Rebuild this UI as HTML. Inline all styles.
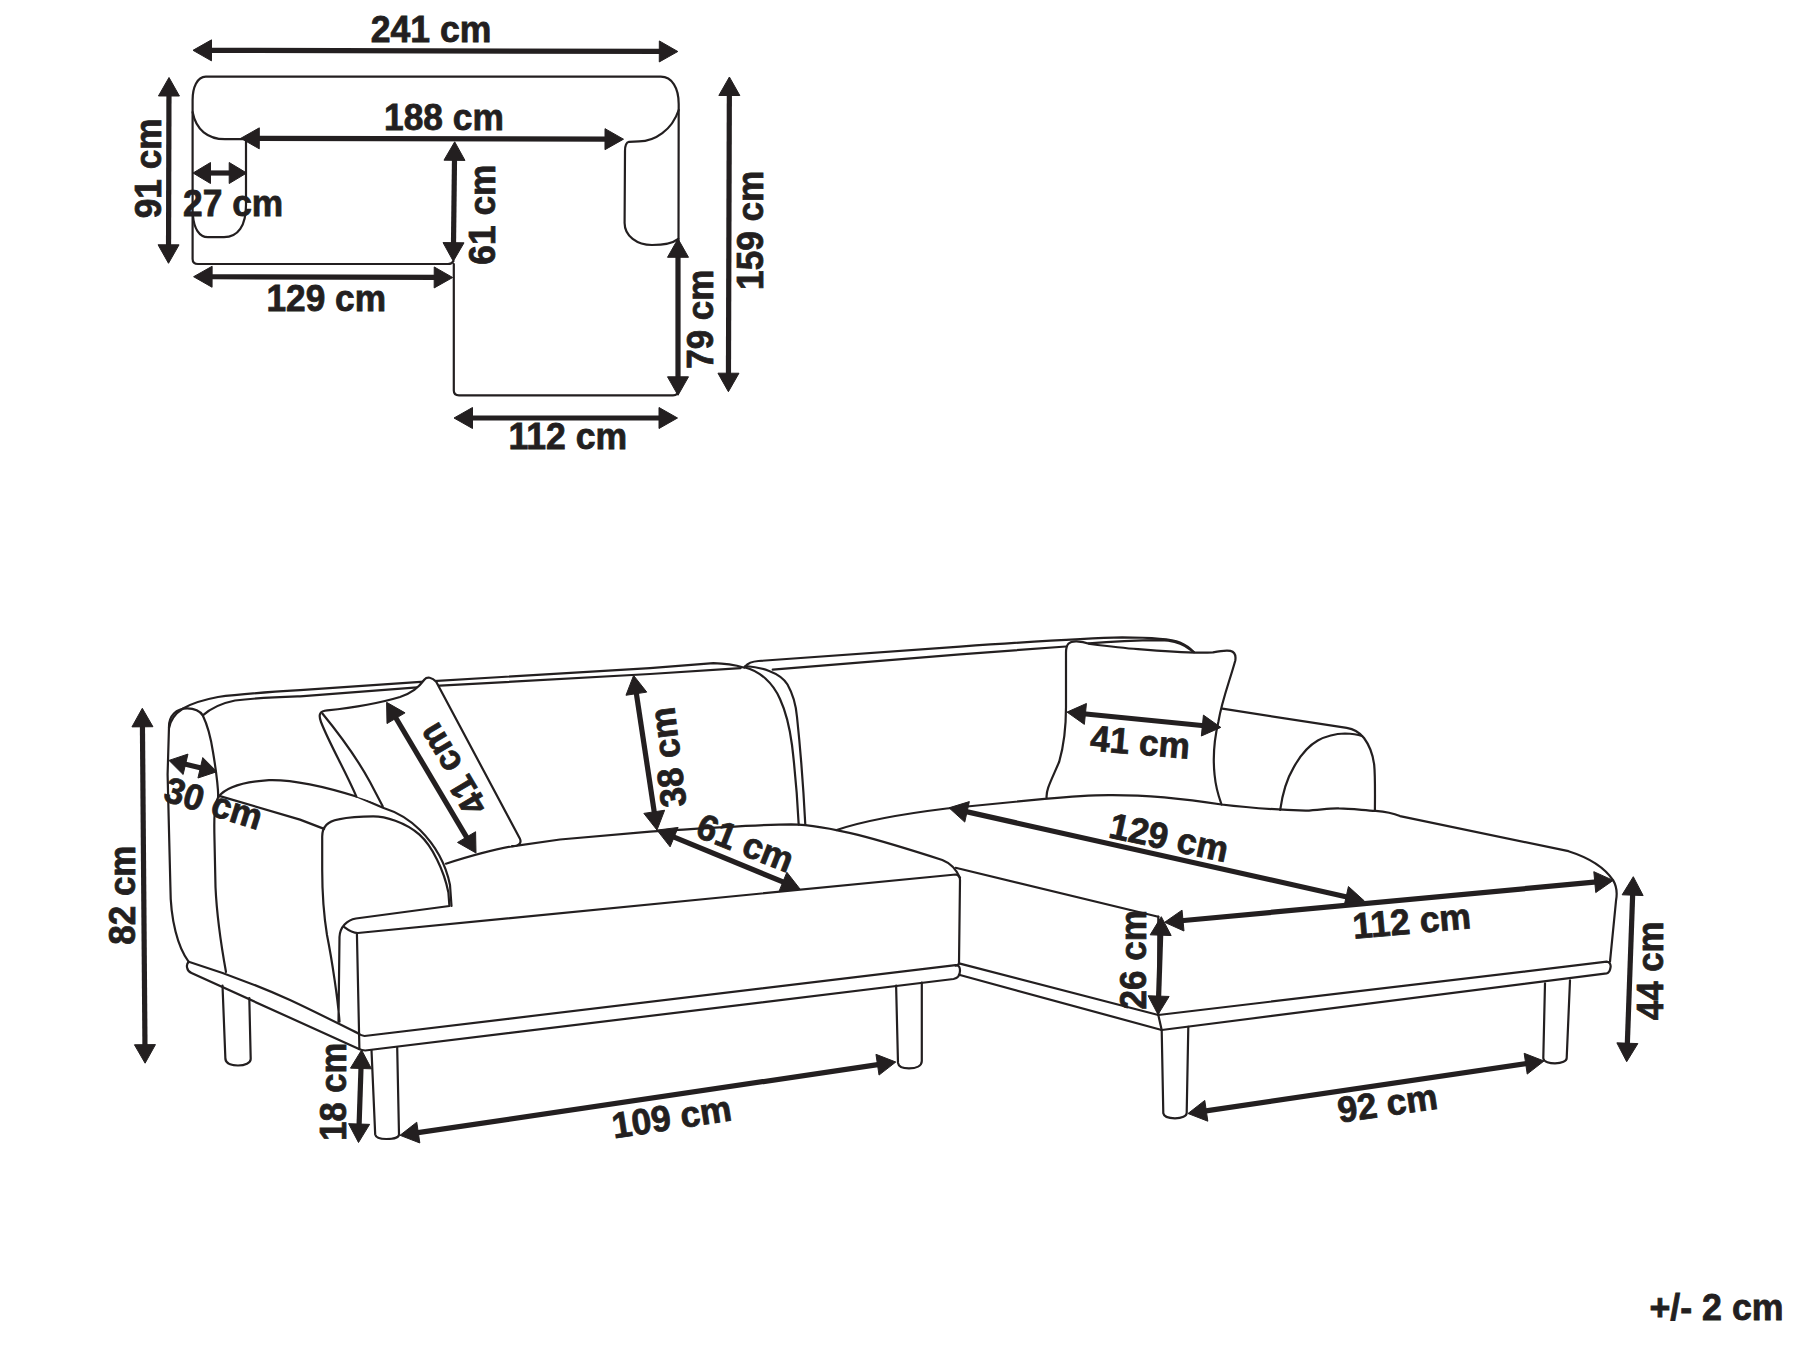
<!DOCTYPE html>
<html><head><meta charset="utf-8"><style>
html,body{margin:0;padding:0;background:#fff;width:1799px;height:1349px;overflow:hidden}
svg{display:block}
text{font-family:"Liberation Sans",sans-serif;font-weight:bold;font-size:36.3px;fill:#231f20;stroke:#231f20;stroke-width:0.8px}
</style></head><body>
<svg width="1799" height="1349" viewBox="0 0 1799 1349">
<rect width="1799" height="1349" fill="#fff"/>
<g fill="none" stroke="#231f20" stroke-linecap="round" stroke-linejoin="round">
<path d="M 453.8,264 L 453.8,390.5 Q 453.8,395.3 459,395.3 L 673,395.3 Q 678.3,395.3 678.3,390 L 678.7,104 C 678.7,88 672,76.7 660.8,76.7 L 205.8,76.7 C 197,76.7 192.6,88 192.6,100 L 192.6,259 Q 192.6,264 198,264 L 448,264 Q 452,264 453.5,261" stroke-width="2.2"/>
<path d="M 192.6,112 C 196,130 208,139.2 225,139.2 L 246,139.2 L 246,205 C 246,226 238,237.2 224,237.2 L 208,237.2 C 199,237.2 194,228 193,216" stroke-width="2.2"/>
<path d="M 678.7,110 C 672,130 655,141.4 639,141.4 L 629,141.8 C 626,142.5 625,146 625,151 L 624.6,223 C 624.6,236 637,245 652,245 C 664,245 673,243 678.3,238.8" stroke-width="2.2"/>
<path d="M 188.7,961.8 C 178,948 170.4,920 170.4,887 L 167.6,774.5 L 169,726.6 C 169,716 176,708.3 187.3,708.3 C 195,708.3 200,711 202.8,715.4 C 207,724 211.3,740.7 213,752 C 216,770 218,785 218.3,797" stroke-width="2.2"/>
<path d="M 169,728 C 172,712 186,703 218,697 C 240,694 270,692 300,690.2 L 420.6,681.8 L 650,668.2 L 713.4,663.2 C 725,663.4 735,665 744.5,667.7" stroke-width="2.2"/>
<path d="M 202.8,715.4 C 210,709 220,703.5 235,700.5 C 260,697.5 280,697 300,696.4 L 440,685.7 L 650,674 L 740.6,668.2" stroke-width="2.2"/>
<path d="M 218.3,797 C 225,788 240,782 269,780.1 C 290,779.5 320,785 358,797 L 383,807.7 C 400,813 410,820 420,830 C 435,845 446,865 450,885 L 451.5,906" stroke-width="2.2"/>
<path d="M 218.3,797 C 214,805 214,820 214.5,840 L 215.5,887 C 217,920 222,950 226,972" stroke-width="2.2"/>
<path d="M 218.3,795.6 L 300,819.6 L 324.1,828.9" stroke-width="2.2"/>
<path d="M 339.5,1021.7 C 338,1000 332,960 327,935 C 323,910 322.2,890 322.2,870 L 322.2,836.6 C 322.2,827 328,821 338.5,819.3 C 350,817 365,816.4 373.2,816.4 C 385,816.4 405,822 419.5,834.7 C 432,846 444,870 448.4,892.5 L 449.4,906 L 355.9,918.5 C 347,920 340,927 339.5,937 L 338.5,1021.7" stroke-width="2.2"/>
<path d="M 344.3,927.2 C 348,930 352,933 357.8,933 L 955.6,874.5 C 958,875 960,877 960,880 L 959,963 C 959,965 957.5,965.5 955.6,965.7" stroke-width="2.2"/>
<path d="M 356.9,933 L 359.4,1049" stroke-width="2.2"/>
<path d="M 358.5,1033.5 Q 361,1035.5 364.5,1036 L 955.6,965.2 C 959,965 960,967.5 960,970.5 C 960,975 958,978.2 953.5,979 L 365.2,1050.5 Q 361.5,1050.3 359,1049" stroke-width="2.2"/>
<path d="M 188.7,961.8 C 215,970 250,982 290,1000 C 320,1014 345,1027 358.5,1033.5" stroke-width="2.2"/>
<path d="M 188.7,961.8 C 186,964 186,970.5 191.5,973.1 L 359,1049" stroke-width="2.2"/>
<path d="M 445.9,863.7 C 470,856 490,850 512,846.3 L 560,839.5 L 650,831.6 C 700,828.5 760,824.5 791.2,824.3 C 830,825 880,840 942.3,860 C 950,863 955.6,867.8 960,877.8" stroke-width="2.2"/>
<path d="M 744.4,667.2 C 760,671 773,683 780,699 C 786,712 790,730 792,745 C 795,770 797,790 798.7,824.7" stroke-width="2.2"/>
<path d="M 745.5,666 C 760,667 780,672 787.5,684.5 C 794,696 796,705 797,717 C 800,745 803,780 805.3,824.7" stroke-width="2.2"/>
<path d="M 745.1,666.5 C 748,663 752,661.5 758.4,661 L 960,646.6 C 1040,641 1090,638 1122.3,637.4 C 1150,637.5 1170,638.5 1180,642.5 C 1186,645 1190,648 1193.9,652.2" stroke-width="2.2"/>
<path d="M 772.7,669.7 L 960,654.4 L 1066,646.5" stroke-width="2.2"/>
<path d="M 356.4,796.6 C 345,770 330,745 321,722 C 318,714 320,711 327.2,710.4 C 350,708 380,703 400,697 C 412,693 418,688 424.5,679.5 C 427,676.5 432,677 436.2,681.8 L 519.8,838.4 C 522,843 519,846 512,846.2" fill="#fff" stroke-width="2.2"/>
<path d="M 322.4,713.5 C 340,735 358,760 370,782 L 382.7,806.3" stroke-width="2.2"/>
<path d="M 1046.6,797.7 C 1046,790 1050,783 1059.2,761.8 C 1064,745 1066,730 1066,707.3 L 1066,652.8 C 1066,644 1069,641.5 1076,641.3 C 1082,641.2 1086,642.5 1090,644 C 1110,646.5 1125,648.2 1138,649.2 C 1170,652 1200,653 1212.9,652.4 C 1220,651 1225,650 1230.4,650.9 C 1235,652 1236,656 1235.3,660.5 C 1230,680 1222,700 1218.5,721.2 C 1214,740 1213,760 1214.6,775 C 1216,790 1220,800 1221.6,804.5" fill="#fff" stroke-width="2.2"/>
<path d="M 1088.8,643.4 C 1110,641.5 1140,640.2 1161.2,640.1 C 1172,640.5 1180,643 1185,646 L 1193.9,652.2" stroke-width="2.2"/>
<path d="M 836.7,830 C 860,822 888.9,815.6 946.7,808.5 L 1044.6,798.9 C 1080,795.5 1100,795 1111.3,795.1 C 1150,795 1180,798 1221.6,804.5 C 1250,808 1270,809.5 1305.7,810.7 C 1320,810 1330,808 1338.9,808.4 C 1350,808.5 1362,810 1375.7,810.9 C 1390,812 1395,814 1400,816.1 L 1568.5,851.2 C 1590,858 1605,868 1613.2,880.4 C 1617,887 1617,895 1616.1,900 L 1610,961.7" stroke-width="2.2"/>
<path d="M 1222.4,708.7 L 1346.7,727.9 C 1354,729 1360,733 1364,738 C 1370,746 1373,755 1374.2,765 C 1375.2,775 1375.1,790 1374.9,810.7" stroke-width="2.2"/>
<path d="M 1280.2,809.8 C 1283,790 1288,777 1293.7,767.4 C 1300,756 1308,746 1317.8,740.5 C 1328,735 1338,733.7 1345,733.5 C 1352,733.5 1358,734.5 1362.1,736.1" stroke-width="2.2"/>
<path d="M 1158.3,916.7 L 1158.3,1015 L 1161.7,1030" stroke-width="2.2"/>
<path d="M 955.6,867.8 L 1158.3,916.7" stroke-width="2.2"/>
<path d="M 959,963.4 L 1158.3,1015" stroke-width="2.2"/>
<path d="M 1158.3,1015 L 1606.7,961.7 C 1610,962 1611,965 1610.5,967.5 C 1610,971 1608.5,973 1606.7,973.3 L 1161.7,1030" stroke-width="2.2"/>
<path d="M 959,974.8 L 1161.7,1030" stroke-width="2.2"/>
<path d="M 222.5,985.5 L 225.4,1059 C 226,1064 233,1065.5 238,1065.5 C 245,1065.5 250.7,1063 250.7,1059 L 249.3,998" stroke-width="2.2"/>
<path d="M 371.5,1050 L 375.2,1134.4 C 376,1138 380,1139 386.2,1139 C 394,1139 399,1137 399,1134.4 L 397.2,1047.5" stroke-width="2.2"/>
<path d="M 896.1,985.5 L 898,1062.9 C 898.5,1067 904,1068.4 909,1068.4 C 916,1068.4 921.8,1066 921.8,1061 L 921.8,982.5" stroke-width="2.2"/>
<path d="M 1161.7,1030 L 1163.3,1113.3 C 1164,1117 1170,1118.3 1175,1118.3 C 1182,1118.3 1186.7,1116 1186.7,1113 L 1188.3,1026.8" stroke-width="2.2"/>
<path d="M 1545,983.3 L 1543.3,1058.3 C 1543.5,1062 1550,1063.3 1555,1063.3 C 1562,1063.3 1566.7,1061 1566.7,1058 L 1570,980.3" stroke-width="2.2"/>
</g>
<g fill="#231f20" stroke="#231f20" stroke-linejoin="miter">
<line x1="209.50" y1="50.34" x2="661.30" y2="51.46" stroke-width="5.2"/>
<polygon points="677.80,51.50 659.27,61.95 659.33,40.95"/>
<polygon points="193.00,50.30 211.47,60.85 211.53,39.85"/>
<line x1="257.30" y1="138.34" x2="607.00" y2="139.16" stroke-width="5.2"/>
<polygon points="623.50,139.20 604.98,149.66 605.02,128.66"/>
<polygon points="240.80,138.30 259.28,148.84 259.32,127.84"/>
<line x1="208.50" y1="173.00" x2="231.20" y2="173.00" stroke-width="5.2"/>
<polygon points="246.70,173.00 229.20,183.50 229.20,162.50"/>
<polygon points="193.00,173.00 210.50,183.50 210.50,162.50"/>
<line x1="168.96" y1="94.00" x2="168.54" y2="246.80" stroke-width="5.2"/>
<polygon points="168.50,263.30 158.05,244.77 179.05,244.83"/>
<polygon points="169.00,77.50 158.45,95.97 179.45,96.03"/>
<line x1="454.51" y1="158.30" x2="453.49" y2="244.70" stroke-width="5.2"/>
<polygon points="453.30,261.20 443.02,242.58 464.02,242.82"/>
<polygon points="454.70,141.80 443.98,160.18 464.98,160.42"/>
<line x1="210.10" y1="276.75" x2="436.20" y2="277.45" stroke-width="5.2"/>
<polygon points="452.70,277.50 434.17,287.94 434.23,266.94"/>
<polygon points="193.60,276.70 212.07,287.26 212.13,266.26"/>
<line x1="729.35" y1="93.50" x2="728.45" y2="375.20" stroke-width="5.2"/>
<polygon points="728.40,391.70 717.96,373.17 738.96,373.23"/>
<polygon points="729.40,77.00 718.84,95.47 739.84,95.53"/>
<line x1="678.00" y1="255.30" x2="678.00" y2="378.80" stroke-width="5.2"/>
<polygon points="678.00,395.30 667.50,376.80 688.50,376.80"/>
<polygon points="678.00,238.80 667.50,257.30 688.50,257.30"/>
<line x1="470.50" y1="418.00" x2="661.00" y2="418.00" stroke-width="5.2"/>
<polygon points="677.50,418.00 659.00,428.50 659.00,407.50"/>
<polygon points="454.00,418.00 472.50,428.50 472.50,407.50"/>
<line x1="142.43" y1="724.80" x2="144.97" y2="1046.70" stroke-width="5.2"/>
<polygon points="145.10,1063.20 134.45,1044.78 155.45,1044.62"/>
<polygon points="142.30,708.30 131.95,726.88 152.95,726.72"/>
<line x1="183.60" y1="763.84" x2="202.30" y2="768.26" stroke-width="5.2"/>
<polygon points="216.90,771.70 197.94,778.02 202.77,757.58"/>
<polygon points="169.00,760.40 183.13,774.52 187.96,754.08"/>
<line x1="395.02" y1="716.49" x2="467.58" y2="838.81" stroke-width="5.2"/>
<polygon points="476.00,853.00 457.53,842.45 475.59,831.73"/>
<polygon points="386.60,702.30 387.01,723.57 405.07,712.85"/>
<line x1="636.07" y1="691.71" x2="654.53" y2="813.79" stroke-width="5.2"/>
<polygon points="657.00,830.10 643.85,813.38 664.62,810.24"/>
<polygon points="633.60,675.40 625.98,695.26 646.75,692.12"/>
<line x1="672.26" y1="836.38" x2="784.74" y2="882.72" stroke-width="5.2"/>
<polygon points="800.00,889.00 778.90,891.66 786.89,872.25"/>
<polygon points="657.00,830.10 670.11,846.85 678.10,827.44"/>
<line x1="1083.42" y1="713.73" x2="1204.38" y2="725.77" stroke-width="5.2"/>
<polygon points="1220.80,727.40 1201.35,736.02 1203.43,715.12"/>
<polygon points="1067.00,712.10 1084.37,724.38 1086.45,703.48"/>
<line x1="965.10" y1="811.41" x2="1348.10" y2="897.19" stroke-width="5.2"/>
<polygon points="1364.20,900.80 1343.85,907.00 1348.44,886.51"/>
<polygon points="949.00,807.80 964.76,822.09 969.35,801.60"/>
<line x1="1181.03" y1="920.77" x2="1596.77" y2="881.93" stroke-width="5.2"/>
<polygon points="1613.20,880.40 1595.76,892.57 1593.80,871.67"/>
<polygon points="1164.60,922.30 1184.00,931.03 1182.04,910.13"/>
<line x1="1160.74" y1="933.19" x2="1158.56" y2="998.11" stroke-width="5.2"/>
<polygon points="1158.00,1014.60 1148.13,995.76 1169.12,996.46"/>
<polygon points="1161.30,916.70 1150.18,934.84 1171.17,935.54"/>
<line x1="1632.71" y1="893.19" x2="1627.29" y2="1045.21" stroke-width="5.2"/>
<polygon points="1626.70,1061.70 1616.87,1042.84 1637.85,1043.59"/>
<polygon points="1633.30,876.70 1622.15,894.81 1643.13,895.56"/>
<line x1="1204.32" y1="1111.09" x2="1527.68" y2="1063.41" stroke-width="5.2"/>
<polygon points="1544.00,1061.00 1527.23,1074.09 1524.17,1053.31"/>
<polygon points="1188.00,1113.50 1207.83,1121.19 1204.77,1100.41"/>
<line x1="416.32" y1="1132.89" x2="879.48" y2="1064.41" stroke-width="5.2"/>
<polygon points="895.80,1062.00 879.03,1075.09 875.96,1054.32"/>
<polygon points="400.00,1135.30 419.84,1142.98 416.77,1122.21"/>
<line x1="361.05" y1="1066.49" x2="359.05" y2="1126.01" stroke-width="5.2"/>
<polygon points="358.50,1142.50 348.63,1123.66 369.61,1124.36"/>
<polygon points="361.60,1050.00 350.49,1068.14 371.47,1068.84"/>
</g>
<g>
<text transform="translate(372.00 41.50) rotate(0.00) scale(0.9799 1)" x="-1.26" y="0">241 cm</text>
<text transform="translate(386.30 129.90) rotate(0.00) scale(0.9724 1)" x="-2.29" y="0">188 cm</text>
<text transform="translate(184.30 216.00) rotate(0.00) scale(0.9727 1)" x="-1.26" y="0">27 cm</text>
<text transform="translate(268.70 310.60) rotate(0.00) scale(0.9707 1)" x="-2.29" y="0">129 cm</text>
<text transform="translate(510.70 449.10) rotate(0.00) scale(0.9799 1)" x="-2.29" y="0">112 cm</text>
<text transform="translate(160.70 217.00) rotate(-90.00) scale(0.9696 1)" x="-1.26" y="0">91 cm</text>
<text transform="translate(494.80 263.30) rotate(-90.00) scale(0.9729 1)" x="-1.38" y="0">61 cm</text>
<text transform="translate(713.20 367.20) rotate(-90.00) scale(0.9629 1)" x="-1.60" y="0">79 cm</text>
<text transform="translate(763.00 287.70) rotate(-90.00) scale(0.9690 1)" x="-2.29" y="0">159 cm</text>
<text transform="translate(135.20 943.50) rotate(-90.00) scale(0.9634 1)" x="-1.24" y="0">82 cm</text>
<text transform="translate(345.60 1138.50) rotate(-90.00) scale(0.9493 1)" x="-2.29" y="0">18 cm</text>
<text transform="translate(1146.10 1008.30) rotate(-90.00) scale(0.9666 1)" x="-1.26" y="0">26 cm</text>
<text transform="translate(1662.80 1019.70) rotate(-90.00) scale(0.9598 1)" x="-0.55" y="0">44 cm</text>
<text transform="translate(163.19 800.51) rotate(17.40) scale(0.9755 1)" x="-1.24" y="0">30 cm</text>
<text transform="translate(488.20 805.63) rotate(-120.70) scale(0.9688 1)" x="-0.55" y="0">41 cm</text>
<text transform="translate(686.30 804.32) rotate(-97.00) scale(0.9755 1)" x="-1.24" y="0">38 cm</text>
<text transform="translate(695.30 836.59) rotate(21.50) scale(0.9769 1)" x="-1.38" y="0">61 cm</text>
<text transform="translate(1090.13 750.58) rotate(4.80) scale(0.9688 1)" x="-0.55" y="0">41 cm</text>
<text transform="translate(1109.67 837.66) rotate(12.00) scale(0.9783 1)" x="-2.29" y="0">129 cm</text>
<text transform="translate(1356.01 938.49) rotate(-5.00) scale(0.9783 1)" x="-2.29" y="0">112 cm</text>
<text transform="translate(1340.68 1122.58) rotate(-8.20) scale(0.9757 1)" x="-1.26" y="0">92 cm</text>
<text transform="translate(616.19 1138.21) rotate(-8.80) scale(0.9783 1)" x="-2.29" y="0">109 cm</text>
<text transform="translate(1650.90 1320.30) rotate(0.00) scale(0.9855 1)" x="-1.52" y="0">+/- 2 cm</text>
</g>
</svg>
</body></html>
